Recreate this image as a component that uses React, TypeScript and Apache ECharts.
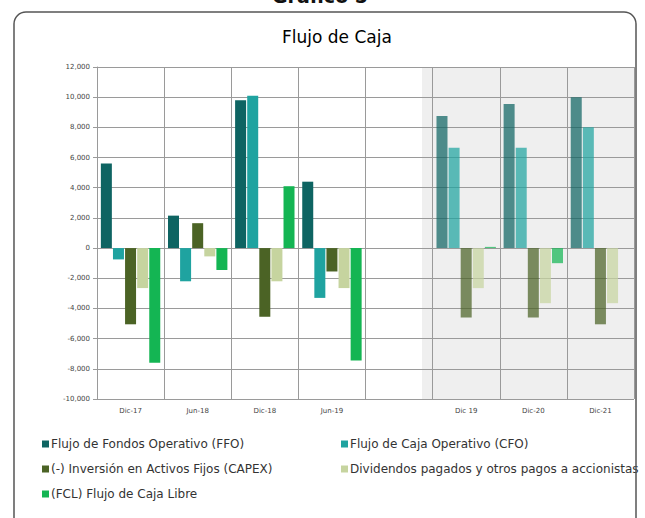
import React, { useEffect, useRef } from "react";
import * as echarts from "echarts";

const categories = ["Dic-17", "Jun-18", "Dic-18", "Jun-19", "", "Dic 19", "Dic-20", "Dic-21"];
const ffo = [5600, 2150, 9800, 4400, null, 8750, 9550, 10000];
const cfo = [-750, -2200, 10100, -3300, null, 6650, 6650, 8000];
const capex = [-5050, 1650, -4550, -1550, null, -4600, -4600, -5050];
const dividendos = [-2650, -550, -2200, -2650, null, -2650, -3650, -3650];
const fcl = [-7600, -1450, 4100, -7450, null, 80, -1000, null];
const yTicks = { min: -10000, max: 12000, interval: 2000 };
const firstProjection = 5;

const seriesDefs = [
  { name: "Flujo de Fondos Operativo (FFO)", data: ffo, color: "#0e6462" },
  { name: "Flujo de Caja Operativo (CFO)", data: cfo, color: "#1fa3a0" },
  { name: "(-) Inversión en Activos Fijos (CAPEX)", data: capex, color: "#4b6325" },
  { name: "Dividendos pagados y otros pagos a accionistas", data: dividendos, color: "#c6d49f" },
  { name: "(FCL) Flujo de Caja Libre", data: fcl, color: "#14b553" },
];

const FONT = "DejaVu Sans";

export default function App() {
  const ref = useRef<HTMLDivElement>(null);
  useEffect(() => {
    document.body.style.margin = "0";
    document.body.style.overflow = "hidden";
    if (!ref.current) return;
    const chart = echarts.init(ref.current, null, { renderer: "svg" });
    const legendPos = [
      { left: 37, top: 433 },
      { left: 336, top: 433 },
      { left: 37, top: 458 },
      { left: 336, top: 458 },
      { left: 37, top: 483 },
    ];
    chart.setOption({
      animation: false,
      backgroundColor: "#ffffff",
      textStyle: { fontFamily: FONT },
      graphic: [
        {
          type: "text",
          left: 272,
          top: -14,
          style: { text: "Gráfico 5", fontSize: 19, fontWeight: "bold", fontFamily: FONT, fill: "#111" },
          z: 10,
        },
        {
          type: "rect",
          shape: { x: 14, y: 12, width: 622, height: 530, r: 12 },
          style: { fill: "none", stroke: "#555", lineWidth: 1.5 },
          z: 10,
        },
        {
          type: "rect",
          shape: { x: 422, y: 67, width: 212, height: 332 },
          style: { fill: "#efefef" },
          z: -10,
          silent: true,
        },
        {
          type: "text",
          left: 282,
          top: 28,
          style: { text: "Flujo de Caja", fontSize: 17, fontWeight: "normal", fontFamily: FONT, fill: "#000" },
        },
      ],
      legend: seriesDefs.map((s, i) => ({
        data: [s.name],
        left: legendPos[i].left,
        top: legendPos[i].top,
        icon: "rect",
        itemWidth: 7,
        itemHeight: 7,
        itemGap: 4,
        textStyle: { fontSize: 12, fontFamily: FONT, color: "#333", padding: [0, 0, 0, -3] },
      })),
      grid: { left: 97, top: 67, right: 11, bottom: 119, containLabel: false },
      xAxis: {
        type: "category",
        data: categories,
        boundaryGap: true,
        axisLine: { show: true, lineStyle: { color: "#9a9a9a", width: 1 } },
        axisTick: { show: false },
        splitLine: { show: true, interval: 0, lineStyle: { color: "#9a9a9a", width: 1 } },
        axisLabel: { fontSize: 7, color: "#444", margin: 8, interval: 0, fontFamily: FONT },
      },
      yAxis: {
        type: "value",
        min: yTicks.min,
        max: yTicks.max,
        interval: yTicks.interval,
        axisLine: { show: true, lineStyle: { color: "#9a9a9a" } },
        axisTick: { show: true, length: 4, inside: false, lineStyle: { color: "#9a9a9a" } },
        splitLine: { show: true, lineStyle: { color: "#9a9a9a", width: 1 } },
        axisLabel: {
          fontSize: 7,
          color: "#444",
          margin: 7,
          fontFamily: FONT,
          formatter: (v: number) => v.toLocaleString("en-US"),
        },
      },
      series: seriesDefs.map((s) => ({
        name: s.name,
        type: "bar",
        barWidth: 11,
        barGap: "10%",
        itemStyle: { color: s.color },
        data: s.data.map((v, idx) =>
          idx >= firstProjection ? { value: v, itemStyle: { opacity: 0.72 } } : v
        ),
      })),
    });
    return () => chart.dispose();
  }, []);
  return <div ref={ref} style={{ width: 645, height: 518 }} />;
}
